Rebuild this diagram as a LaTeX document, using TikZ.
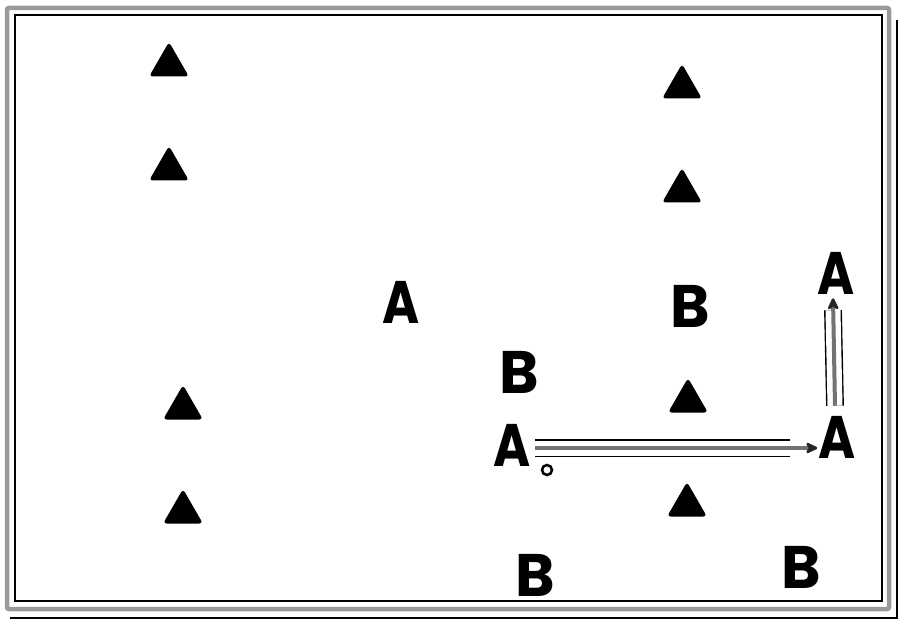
\documentclass[tikz,border=0pt]{standalone}
\usepackage{fontspec}
\usepackage{graphicx}
\setmainfont{Poppins}
\usetikzlibrary{shapes.geometric,arrows.meta}
\newcommand{\narrowA}{\scalebox{0.84}[1]{A}}
\begin{document}
\begin{tikzpicture}[x=1pt,y=-1pt,
  cone/.style={regular polygon, regular polygon sides=3, fill=black, minimum size=46pt, inner sep=0pt, rounded corners=3.5pt},
  letter/.style={inner sep=0pt, fill=white, font=\fontsize{60}{60}\selectfont\bfseries},
  rail/.style={draw=black, line width=1.4pt, double=white, double distance=15pt},
  shaft/.style={draw=black!55, line width=4pt, -{Stealth[length=15pt,width=14pt,round,color=black!85]}},
  ring/.style={circle, draw=black, line width=2.5pt, minimum size=10pt, inner sep=0pt}]
\useasboundingbox (0,0) rectangle (900,620);
% frame
\draw[gray!80, line width=4.5pt, rounded corners=2pt] (7,8) rectangle (889,609);
\draw[black, line width=2pt] (15,15) rectangle (882,601);
\draw[black, line width=1.5pt] (10,618) -- (897,618) -- (897,20);
% cones
\node[cone] (c1) at (169,65) {};
\node[cone] (c2) at (169,169) {};
\node[cone] (c3) at (183,408) {};
\node[cone] (c4) at (183,512) {};
\node[cone] (c5) at (682,87) {};
\node[cone] (c6) at (682,191) {};
\node[cone] (c7) at (688,401) {};
\node[cone] (c8) at (687,505) {};
% letters
\node[letter] (A1) at (401,302) {\narrowA};
\node[letter] (B1) at (519,372) {B};
\node[letter] (A2) at (512,445) {\narrowA};
\node[letter] (B4) at (535,575) {B};
\node[letter] (B2) at (690,306) {B};
\node[letter] (A3) at (836,273) {\narrowA};
\node[letter] (A4) at (837,437) {\narrowA};
\node[letter] (B3) at (801,567) {B};
\node[ring] (dot) at (547,470) {};
% arrows
\coordinate (h1) at ([xshift=4pt,yshift=-3pt]A2.east);
\coordinate (h2) at ([yshift=-3pt]A2.east -| A4.west);
\draw[rail] (h1) -- ([xshift=-28pt]h2);
\draw[shaft] (h1) -- ([xshift=-1pt]h2);
\coordinate (v1) at ([xshift=-2pt,yshift=10pt]A4.north);
\coordinate (v2) at ([xshift=-2pt]v1 |- A3.south);
\draw[rail] (v1) -- ([yshift=-16pt]v2);
\draw[shaft] (v1) -- ([yshift=-4pt]v2);
\end{tikzpicture}
\end{document}
